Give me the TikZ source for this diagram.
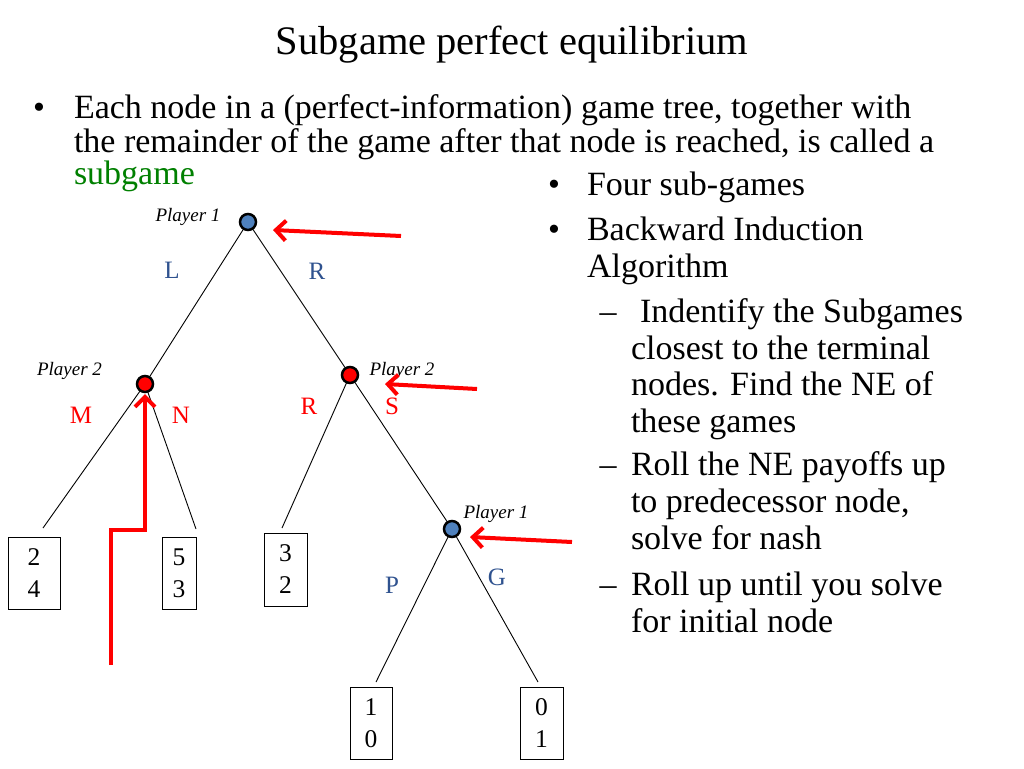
\documentclass[tikz,border=0pt]{standalone}
\usepackage{fontspec}
\setmainfont{Liberation Serif}
\usetikzlibrary{arrows.meta}
\definecolor{nodeblue}{HTML}{4F81BD}
\definecolor{lblblue}{HTML}{2F528F}
\definecolor{sgreen}{HTML}{008000}
\begin{document}
\begin{tikzpicture}[x=1pt,y=-1pt,
 every node/.style={inner sep=0pt, outer sep=0pt},
 title/.style={font=\fontsize{40.5}{48}\selectfont, anchor=base},
 body/.style={font=\fontsize{34}{40}\selectfont, anchor=base west},
 blt/.style={font=\fontsize{34}{40}\selectfont, anchor=base},
 dec/.style={circle, draw=black, line width=2.5pt, minimum size=16pt},
 pone/.style={dec, fill=nodeblue},
 ptwo/.style={dec, fill=red},
 plabel/.style={font=\fontsize{19}{22}\selectfont\itshape, anchor=base},
 act/.style={font=\fontsize{25}{30}\selectfont, anchor=base},
 pay/.style={draw=black, line width=1pt, align=center, font=\fontsize{25.5}{32}\selectfont},
 branch/.style={draw=black, line width=0.9pt},
 hint/.style={draw=red, line width=4pt, -{Straight Barb[length=10pt,width=20pt]}}
]
\useasboundingbox[fill=white] (0,0) rectangle (1024,768);

% title
\node[title] (ttl) at (512,55) {Subgame perfect equilibrium};

% left text
\node[blt] (b0) at (39,118) {•};
\node[body] (t1) at (74,118) {Each node in a (perfect-information) game tree, together with};
\node[body] (t2) at (74,152) {the remainder of the game after that node is reached, is called a};
\node[body, text=sgreen] (t3) at (74,184) {subgame};

% right text
\node[blt] (b1) at (554,195) {•};
\node[body] (r1) at (587,195) {Four sub-games};
\node[blt] (b2) at (554,240) {•};
\node[body] (r2) at (587,240) {Backward Induction};
\node[body] (r3) at (587,277) {Algorithm};
\node[blt] (d1) at (608,322) {–};
\node[body] (r4) at (640,322) {Indentify the Subgames};
\node[body] (r5) at (631,359) {closest to the terminal};
\node[body] (r6) at (631,395) {nodes. Find the NE of};
\node[body] (r7) at (631,432) {these games};
\node[blt] (d2) at (608,475) {–};
\node[body] (r8) at (631,475) {Roll the NE payoffs up};
\node[body] (r9) at (631,512) {to predecessor node,};
\node[body] (r10) at (631,549) {solve for nash};
\node[blt] (d3) at (608,595) {–};
\node[body] (r11) at (631,595) {Roll up until you solve};
\node[body] (r12) at (631,632) {for initial node};

% decision nodes
\node[pone] (root) at (248,222) {};
\node[ptwo] (p2l) at (145,384) {};
\node[ptwo] (p2r) at (350,375) {};
\node[pone] (p1b) at (452,529) {};

% player labels
\node[plabel] (lroot) at (188,221) {Player 1};
\node[plabel] (lp2l) at (69.5,375) {Player 2};
\node[plabel] (lp2r) at (402,375) {Player 2};
\node[plabel] (lp1b) at (496,518) {Player 1};

% terminal payoffs
\node[pay, minimum width=52pt, minimum height=72pt] (t24) at (34,573) {2\\4};
\node[pay, minimum width=34pt, minimum height=72pt] (t53) at (179,573) {5\\3};
\node[pay, minimum width=43pt, minimum height=73pt] (t32) at (285.5,569.5) {3\\2};
\node[pay, minimum width=42pt, minimum height=72pt] (t10) at (371,723) {1\\0};
\node[pay, minimum width=43pt, minimum height=72pt] (t01) at (541.5,723) {0\\1};

% branch ends just above the payoff boxes
\coordinate (e24) at (43,528);
\coordinate (e53) at (196,529);
\coordinate (e32) at (282,528);
\coordinate (e10) at (376,682);
\coordinate (e01) at (538,682);

% branches
\draw[branch] (root) -- (p2l);
\draw[branch] (root) -- (p2r);
\draw[branch] (p2l) -- (e24);
\draw[branch] (p2l) -- (e53);
\draw[branch] (p2r) -- (e32);
\draw[branch] (p2r) -- (p1b);
\draw[branch] (p1b) -- (e10);
\draw[branch] (p1b) -- (e01);

% action labels
\node[act, text=lblblue] (aL) at (172,278) {L};
\node[act, text=lblblue] (aR) at (317,279) {R};
\node[act, text=red] (aM) at (81,423) {M};
\node[act, text=red] (aN) at (181,423) {N};
\node[act, text=red] (aR2) at (309,414) {R};
\node[act, text=red] (aS) at (392,414) {S};
\node[act, text=lblblue] (aP) at (392,593) {P};
\node[act, text=lblblue] (aG) at (497,585) {G};

% red hint arrows
\coordinate (s1) at (401,236); \coordinate (h1) at (273,230);
\coordinate (s2) at (477,389); \coordinate (h2) at (385,384);
\coordinate (s3) at (572,542); \coordinate (h3) at (470,537);
\coordinate (s4) at (110.7,665); \coordinate (k4) at (110.7,530);
\coordinate (k5) at (145,530); \coordinate (h4) at (145,394);
\draw[hint] (s1) -- (h1);
\draw[hint] (s2) -- (h2);
\draw[hint] (s3) -- (h3);
\draw[hint] (s4) -- (k4) -- (k5) -- (h4);
\end{tikzpicture}
\end{document}
